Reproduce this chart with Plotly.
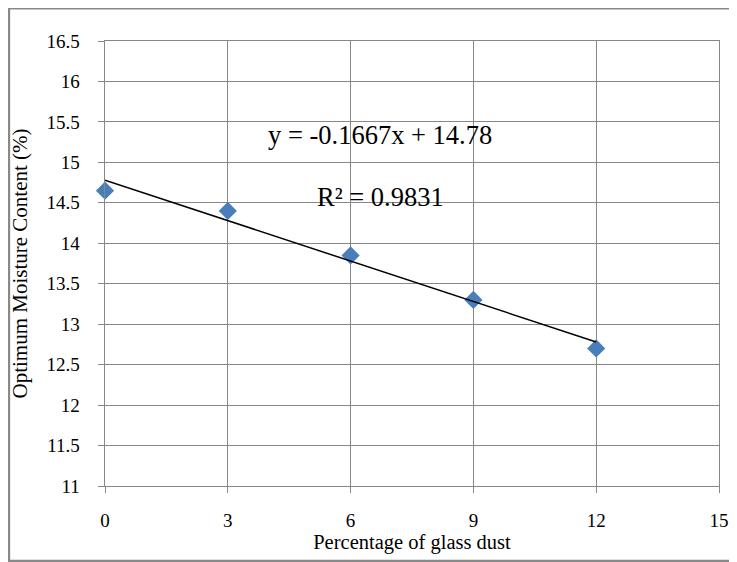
import numpy as np
import plotly.graph_objects as go

glass_pct = [0, 3, 6, 9, 12]
omc = [14.65, 14.4, 13.85, 13.3, 12.7]
x_ticks = [0, 3, 6, 9, 12, 15]
y_ticks = [11, 11.5, 12, 12.5, 13, 13.5, 14, 14.5, 15, 15.5, 16, 16.5]

slope, intercept = np.polyfit(glass_pct, omc, 1)
fit_x = [min(glass_pct), max(glass_pct)]
fit_y = [slope * v + intercept for v in fit_x]

FONT = "Liberation Serif"
GRID = "#878787"
PAD = "\u00a0\u00a0\u00a0"

fig = go.Figure()
fig.add_trace(go.Scatter(
    x=glass_pct, y=omc, mode="markers", cliponaxis=False,
    marker=dict(symbol="diamond", size=14, color="#4A7EBB",
                line=dict(width=0)),
    showlegend=False, hoverinfo="x+y"))
fig.add_trace(go.Scatter(
    x=fit_x, y=fit_y, mode="lines", cliponaxis=False,
    line=dict(color="black", width=1.5),
    showlegend=False, hoverinfo="skip"))

fig.add_annotation(x=6.72, y=15.34, text="y = -0.1667x + 14.78",
                   showarrow=False, xanchor="center", yanchor="middle",
                   font=dict(family=FONT, size=26.5, color="black"))
fig.add_annotation(x=6.72, y=14.57, text="R² = 0.9831",
                   showarrow=False, xanchor="center", yanchor="middle",
                   font=dict(family=FONT, size=26.5, color="black"))

# outer chart border
fig.add_shape(type="rect", xref="paper", yref="paper",
              x0=-0.1565, x1=1.06, y0=-0.1685, y1=1.0735,
              line=dict(color="#898989", width=2.5), fillcolor="rgba(0,0,0,0)",
              layer="below")

fig.update_xaxes(range=[0, 15], tickvals=x_ticks, ticktext=[str(v) for v in x_ticks],
                 showgrid=True, gridcolor=GRID, gridwidth=1.3,
                 showline=True, linecolor=GRID, linewidth=1.3, mirror=True,
                 ticks="outside", ticklen=6, tickcolor=GRID, tickwidth=1.3,
                 ticklabelstandoff=11, zeroline=False,
                 tickfont=dict(family=FONT, size=19, color="black"),
                 title=dict(text="Percentage of glass dust", standoff=4,
                            font=dict(family=FONT, size=20.5, color="black")))
fig.update_yaxes(range=[11, 16.5], tickvals=y_ticks,
                 ticktext=[f"{v:g}{PAD}" for v in y_ticks],
                 showgrid=True, gridcolor=GRID, gridwidth=1.3,
                 showline=True, linecolor=GRID, linewidth=1.3, mirror=True,
                 ticks="outside", ticklen=6, tickcolor=GRID, tickwidth=1.3,
                 zeroline=False,
                 tickfont=dict(family=FONT, size=19, color="black"),
                 title=dict(text="Optimum Moisture Content (%)", standoff=14,
                            font=dict(family=FONT, size=21, color="black")))

fig.update_layout(width=737, height=562,
                  margin=dict(l=97, r=26, t=33, b=84, autoexpand=False),
                  paper_bgcolor="white", plot_bgcolor="white")

fig.write_html("out.html")
